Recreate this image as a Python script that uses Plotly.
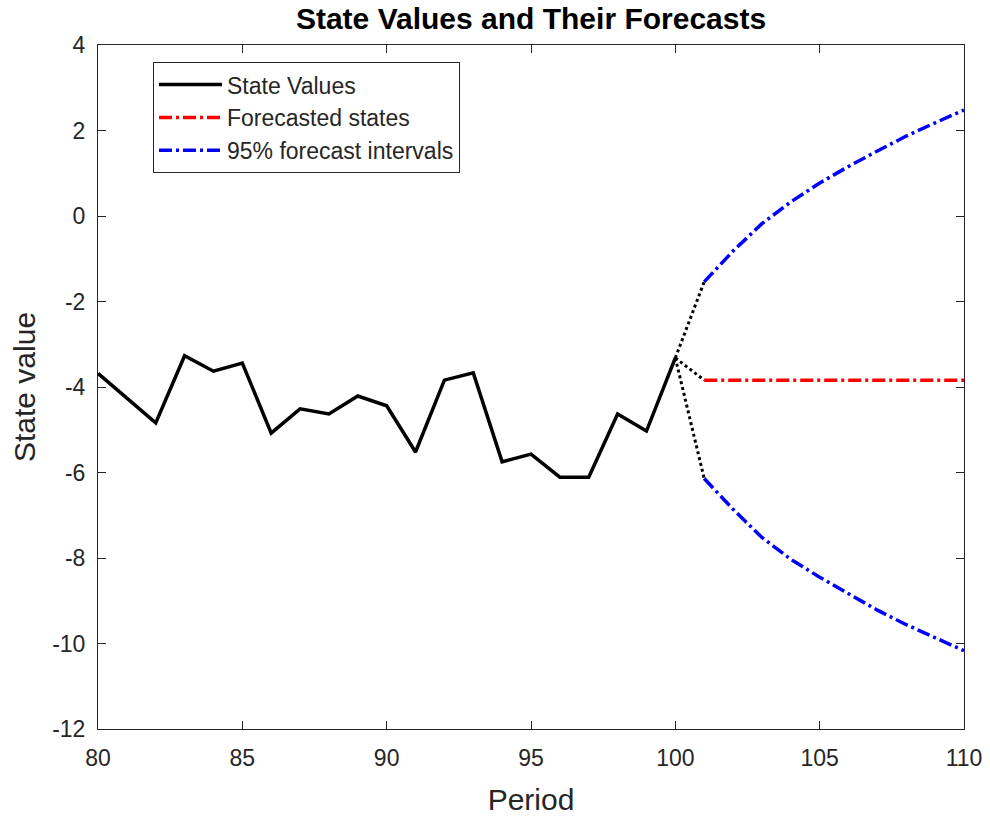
import plotly.graph_objects as go

# ---- data ----
periods = list(range(80, 101))
state_values = [-3.68, -4.27, -4.84, -3.27, -3.63, -3.44, -5.08, -4.51, -4.63, -4.21,
                -4.44, -5.52, -3.84, -3.67, -5.75, -5.57, -6.11, -6.11, -4.63, -5.03, -3.32]

fc_periods = list(range(101, 111))
forecast = [-3.84] * 10
upper = [-1.54, -0.82, -0.18, 0.33, 0.77, 1.16, 1.52, 1.87, 2.18, 2.48]
lower = [-6.14, -6.86, -7.52, -8.03, -8.45, -8.84, -9.22, -9.56, -9.87, -10.17]

xticks = [80, 85, 90, 95, 100, 105, 110]
yticks = [-12, -10, -8, -6, -4, -2, 0, 2, 4]

FONT = "Liberation Sans, Arial, Helvetica, sans-serif"
AX = "#262626"
DASHDOT = "13px,4px,3px,4px"

fig = go.Figure()

# dotted connectors from last observation to first forecast
last_x, last_y = periods[-1], state_values[-1]
for target in (upper[0], forecast[0], lower[0]):
    fig.add_trace(go.Scatter(x=[last_x, fc_periods[0]], y=[last_y, target], mode="lines",
                             line=dict(color="black", width=3, dash="3px,3px"),
                             showlegend=False, hoverinfo="skip"))

fig.add_trace(go.Scatter(x=periods, y=state_values, mode="lines", name="State Values",
                         line=dict(color="black", width=3.5)))
fig.add_trace(go.Scatter(x=fc_periods, y=forecast, mode="lines", name="Forecasted states",
                         line=dict(color="red", width=3.5, dash=DASHDOT)))
fig.add_trace(go.Scatter(x=fc_periods, y=upper, mode="lines", name="95% forecast intervals",
                         line=dict(color="blue", width=3.5, dash=DASHDOT)))
fig.add_trace(go.Scatter(x=fc_periods, y=lower, mode="lines", name="95% forecast intervals",
                         line=dict(color="blue", width=3.5, dash=DASHDOT), showlegend=False))

axis_common = dict(showline=True, linecolor=AX, linewidth=1, mirror="ticks",
                   ticks="inside", ticklen=8, tickcolor=AX, tickwidth=1,
                   showgrid=False, zeroline=False, automargin=False,
                   tickfont=dict(family=FONT, size=23, color=AX))

fig.update_layout(
    width=990, height=816,
    margin=dict(l=98, r=26, t=45, b=87, autoexpand=False),
    paper_bgcolor="white", plot_bgcolor="white",
    title=dict(text="<b>State Values and Their Forecasts</b>", x=0.5364, xanchor="center",
               y=0.977, yanchor="middle", font=dict(family=FONT, size=30, color="black")),
    xaxis=dict(range=[80, 110], tickvals=xticks, ticktext=[str(v) for v in xticks],
               ticklabelstandoff=8,
               title=dict(text="Period", font=dict(family=FONT, size=30, color=AX), standoff=24),
               **axis_common),
    yaxis=dict(range=[-12, 4], tickvals=yticks, ticktext=[str(v) for v in yticks],
               ticklabelstandoff=7,
               title=dict(text="State value", font=dict(family=FONT, size=30, color=AX), standoff=7),
               **axis_common),
    legend=dict(x=0.0635, y=0.975, xanchor="left", yanchor="top",
                bgcolor="white", bordercolor=AX, borderwidth=1,
                font=dict(family=FONT, size=23, color=AX),
                itemwidth=63, tracegroupgap=0),
    showlegend=True,
)

fig.write_html("out.html", config={"displayModeBar": False},
               post_script="document.body.style.margin='0px';document.body.style.overflow='hidden';")
